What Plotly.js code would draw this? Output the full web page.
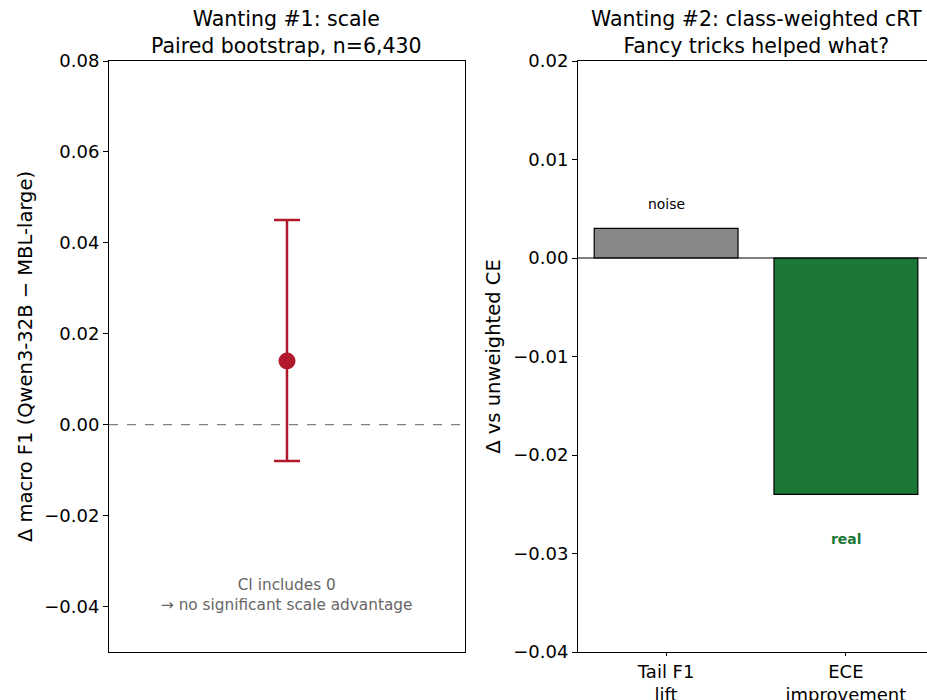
<!DOCTYPE html>
<html>
<head>
<meta charset="utf-8">
<script src="https://cdn.plot.ly/plotly-3.0.1.min.js"></script>
<style>
html,body{margin:0;padding:0;overflow:hidden;background:#fff;}
#chart{width:940px;height:700px;}
</style>
</head>
<body>
<div id="chart"></div>
<script>
// Panel 1: paired bootstrap
const scaleX = [0];
const scaleDelta = [0.014];
const scaleCIlow = [-0.008];
const scaleCIhigh = [0.045];

// Panel 2: class-weighted cRT
const trickCategories = ['Tail F1<br>lift', 'ECE<br>improvement'];
const trickDelta = [0.003, -0.024];
const trickColors = ['#888888', '#1b7837'];
const trickLabels = ['noise', 'real'];

const FONT = 'DejaVu Sans, sans-serif';

const traces = [
  {
    type: 'scatter', mode: 'markers',
    x: scaleX, y: scaleDelta,
    xaxis: 'x', yaxis: 'y',
    marker: {color: '#b2182b', size: 17},
    error_y: {
      type: 'data', symmetric: false,
      array: scaleDelta.map((d, i) => scaleCIhigh[i] - d),
      arrayminus: scaleDelta.map((d, i) => d - scaleCIlow[i]),
      color: '#b2182b', thickness: 2.5, width: 13
    },
    showlegend: false, hoverinfo: 'skip'
  },
  {
    type: 'bar',
    x: trickCategories, y: trickDelta,
    xaxis: 'x2', yaxis: 'y2',
    width: 0.8,
    marker: {color: trickColors, line: {color: '#000', width: 1.2}},
    showlegend: false, hoverinfo: 'skip'
  }
];

const axisCommon = {
  showline: true, mirror: true, linecolor: '#000', linewidth: 1,
  showgrid: false, zeroline: false,
  ticks: 'outside', ticklen: 5, tickwidth: 1, tickcolor: '#000',
  tickfont: {family: FONT, size: 18, color: '#000'}
};

const layout = {
  width: 940, height: 700,
  margin: {l: 109, r: 6, t: 61, b: 48},
  paper_bgcolor: '#fff', plot_bgcolor: '#fff',
  font: {family: FONT, color: '#000'},
  xaxis: Object.assign({}, axisCommon, {
    domain: [0, 0.4315], range: [-1, 1], showticklabels: false, ticks: ''
  }),
  yaxis: Object.assign({}, axisCommon, {
    range: [-0.05, 0.08], tickvals: [-0.04, -0.02, 0, 0.02, 0.04, 0.06, 0.08],
    tickformat: '.2f',
    title: {text: 'Δ macro F1 (Qwen3-32B − MBL-large)', font: {family: FONT, size: 19.5}, standoff: 6}
  }),
  xaxis2: Object.assign({}, axisCommon, {
    domain: [0.5685, 1], range: [-0.49, 1.49], anchor: 'y2',
    type: 'category', ticklen: 3
  }),
  yaxis2: Object.assign({}, axisCommon, {
    anchor: 'x2',
    range: [-0.04, 0.02], tickvals: [-0.04, -0.03, -0.02, -0.01, 0, 0.01, 0.02],
    tickformat: '.2f',
    title: {text: 'Δ vs unweighted CE', font: {family: FONT, size: 19.5}, standoff: 7}
  }),
  shapes: [
    {type: 'line', xref: 'x domain', yref: 'y', x0: 0, x1: 1, y0: 0, y1: 0,
     line: {color: '#808080', width: 1.2, dash: 'dash'}, layer: 'below'},
    {type: 'line', xref: 'x2 domain', yref: 'y2', x0: 0, x1: 1, y0: 0, y1: 0,
     line: {color: '#000', width: 1}}
  ],
  annotations: [
    {xref: 'paper', yref: 'paper', x: 0.2157, y: 1, yshift: 1, xanchor: 'center', yanchor: 'bottom', showarrow: false,
     text: 'Wanting #1: scale<br>Paired bootstrap, n=6,430', font: {family: FONT, size: 20.5, color: '#000'}},
    {xref: 'paper', yref: 'paper', x: 0.7843, y: 1, yshift: 1, xanchor: 'center', yanchor: 'bottom', showarrow: false,
     text: 'Wanting #2: class-weighted cRT<br>Fancy tricks helped what?', font: {family: FONT, size: 20.5, color: '#000'}},
    {xref: 'x', yref: 'y', x: 0, y: -0.0374, xanchor: 'center', showarrow: false,
     text: 'CI includes 0<br>→ no significant scale advantage', font: {family: FONT, size: 15.3, color: '#666666'}},
    {xref: 'x2', yref: 'y2', x: trickCategories[0], y: trickDelta[0] + 0.0025, showarrow: false,
     text: trickLabels[0], font: {family: FONT, size: 13.9, color: '#000'}},
    {xref: 'x2', yref: 'y2', x: trickCategories[1], y: trickDelta[1] - 0.0045, showarrow: false,
     text: '<b>' + trickLabels[1] + '</b>', font: {family: FONT, size: 13.9, color: '#1b7837'}}
  ]
};

Plotly.newPlot('chart', traces, layout, {staticPlot: true, displayModeBar: false});
</script>
</body>
</html>
